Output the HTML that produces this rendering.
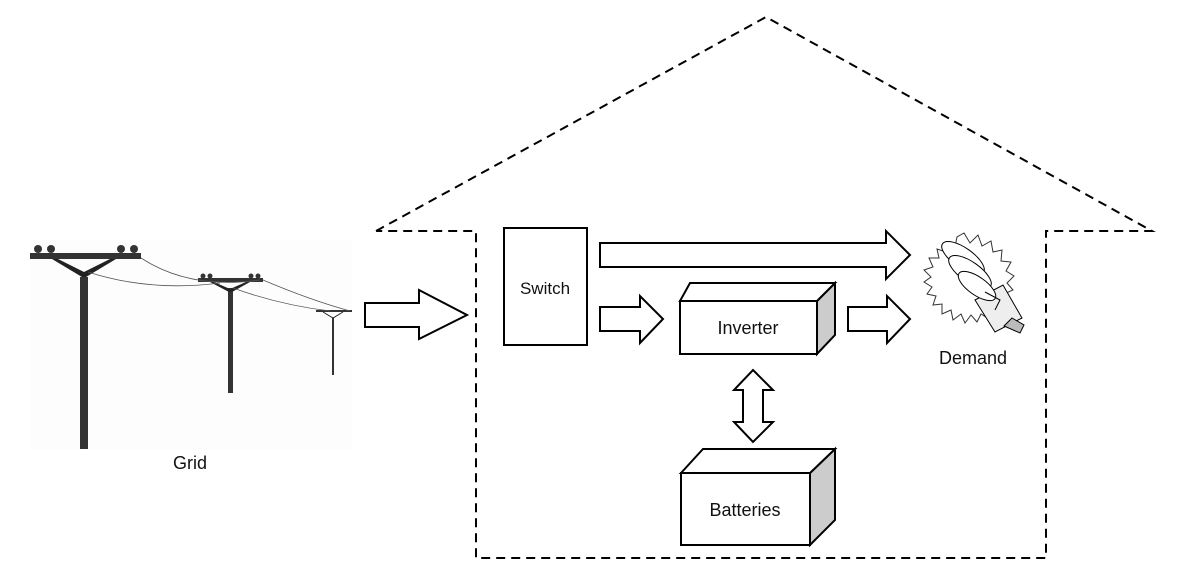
<!DOCTYPE html>
<html><head><meta charset="utf-8"><style>
body{margin:0;background:#fff;}
svg{display:block;}
text{font-family:"Liberation Sans",sans-serif;fill:#111;}
</style></head><body>
<svg width="1184" height="575" viewBox="0 0 1184 575" xmlns="http://www.w3.org/2000/svg">
<rect x="30" y="240" width="322" height="210" fill="#fdfdfd"/>
<!-- house -->
<path d="M376,231 L766,17 L1152,231 L1046,231 L1046,558 L476,558 L476,231 L376,231" fill="none" stroke="#000" stroke-width="2" stroke-dasharray="9,6"/>
<!-- poles -->
<g fill="#333" stroke="none">
<rect x="80" y="277" width="8" height="172"/>
<rect x="30" y="253" width="111" height="6"/>
<path d="M52,259 L82,277 L86,277 L116,259 L110,259 L84,272 L58,259Z" fill="#222"/>
<circle cx="38" cy="249" r="4"/><circle cx="51" cy="249" r="4"/><circle cx="121" cy="249" r="4"/><circle cx="134" cy="249" r="4"/>
<rect x="228" y="288" width="5" height="105"/>
<rect x="198" y="278" width="65" height="4"/>
<path d="M210,282 L229,292 L232,292 L250,282 L246,282 L230,289 L214,282Z" fill="#222"/>
<circle cx="203" cy="276" r="2.5"/><circle cx="210" cy="276" r="2.5"/><circle cx="251" cy="276" r="2.5"/><circle cx="258" cy="276" r="2.5"/>
<rect x="332" y="318" width="2" height="57"/>
<rect x="316" y="310" width="36" height="2"/>
<path d="M323,312 L333,318 L343,312" fill="none" stroke="#222" stroke-width="1"/>
</g>
<g fill="none" stroke="#555" stroke-width="0.8">
<path d="M141,258 Q190,290 260,280"/>
<path d="M88,272 Q150,292 220,283"/>
<path d="M263,280 Q310,300 350,311"/>
<path d="M233,288 Q280,305 330,311"/>
</g>
<text x="190" y="469" font-size="18" text-anchor="middle">Grid</text>
<!-- grid arrow -->
<path d="M365,303 L419,303 L419,290 L467,315 L419,339 L419,327 L365,327Z" fill="#fff" stroke="#000" stroke-width="2"/>
<!-- switch -->
<rect x="504" y="228" width="83" height="117" fill="#fff" stroke="#000" stroke-width="2"/>
<text x="545" y="294" font-size="17" text-anchor="middle">Switch</text>
<!-- top arrow -->
<path d="M600,243 L886,243 L886,231 L910,255 L886,279 L886,267 L600,267Z" fill="#fff" stroke="#000" stroke-width="2"/>
<!-- arrow to inverter -->
<path d="M600,307 L640,307 L640,296 L663,319 L640,343 L640,331 L600,331Z" fill="#fff" stroke="#000" stroke-width="2"/>
<!-- inverter -->
<path d="M817,301 L835,283 L835,335 L817,354Z" fill="#ccc" stroke="#000" stroke-width="2"/>
<path d="M680,301 L690,283 L835,283 L817,301Z" fill="#fff" stroke="#000" stroke-width="2"/>
<rect x="680" y="301" width="137" height="53" fill="#fff" stroke="#000" stroke-width="2"/>
<text x="748" y="334" font-size="18" text-anchor="middle">Inverter</text>
<!-- arrow to demand -->
<path d="M848,307 L887,307 L887,296 L910,319 L887,343 L887,331 L848,331Z" fill="#fff" stroke="#000" stroke-width="2"/>
<!-- double arrow -->
<path d="M753,370 L773,390 L763,390 L763,422 L773,422 L753,442 L734,422 L743,422 L743,390 L734,390Z" fill="#fff" stroke="#000" stroke-width="2"/>
<!-- batteries -->
<path d="M810,473 L835,449 L835,520 L810,545Z" fill="#ccc" stroke="#000" stroke-width="2"/>
<path d="M681,473 L703,449 L835,449 L810,473Z" fill="#fff" stroke="#000" stroke-width="2"/>
<rect x="681" y="473" width="129" height="72" fill="#fff" stroke="#000" stroke-width="2"/>
<text x="745" y="516" font-size="18" text-anchor="middle">Batteries</text>
<!-- bulb -->
<g fill="#fff" stroke="#000" stroke-width="1">
<polygon fill="none" stroke="#333" points="
964,233 970,243 978,235 982,246 991,241 993,252 1002,250 1001,261 1011,262 1006,271 1014,276 1007,283 1013,290 1004,294 1008,302 998,303 1000,312 990,310 989,319 981,314 977,322 971,315 965,323 961,314 953,320 951,310 942,314 942,304 933,305 936,296 927,294 932,287 924,282 931,277 924,270 933,267 929,258 939,258 937,249 946,252 947,242 955,247 957,237"/>
<path d="M975,300 L1003,285 L1022,318 L995,332Z" fill="#eee"/>
<path d="M1012,318 L1024,325 L1020,333 L1004,326Z" fill="#bbb"/>
<ellipse cx="963" cy="258" rx="25" ry="10" transform="rotate(35 963 258)"/>
<ellipse cx="970" cy="272" rx="25" ry="10" transform="rotate(35 970 272)"/>
<ellipse cx="977" cy="286" rx="22" ry="9" transform="rotate(35 977 286)"/>
<path d="M985,292 L1000,300 L995,310" fill="none"/>
</g>
<text x="973" y="364" font-size="18" text-anchor="middle">Demand</text>
</svg>
</body></html>
